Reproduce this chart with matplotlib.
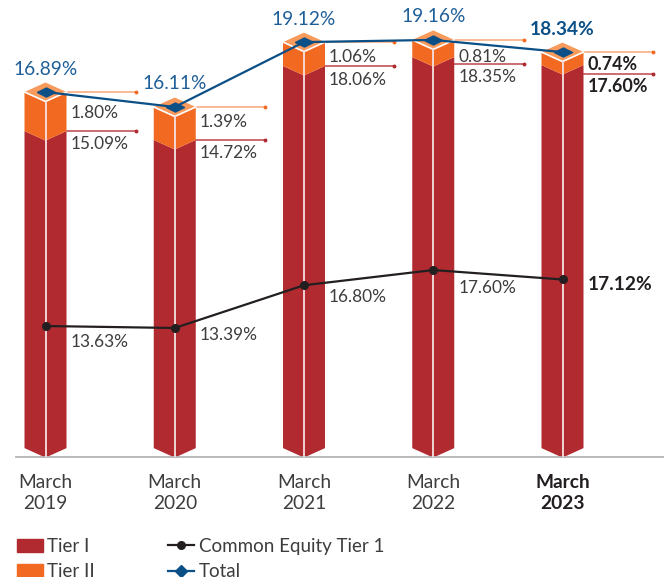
import matplotlib
matplotlib.use('Agg')
import matplotlib.pyplot as plt
from matplotlib.lines import Line2D
from matplotlib.patches import Patch

plt.rcParams['font.family'] = ['Lato', 'DejaVu Sans']

# Data: labels as printed, heights as drawn in the picture
years = ['March\n2019', 'March\n2020', 'March\n2021', 'March\n2022', 'March\n2023']
total_labels = ['16.89%', '16.11%', '19.12%', '19.16%', '18.34%']
tier2_labels = ['1.80%', '1.39%', '1.06%', '0.81%', '0.74%']
tier1_labels = ['15.09%', '14.72%', '18.06%', '18.35%', '17.60%']
cet_labels = ['13.63%', '13.39%', '16.80%', '17.60%', '17.12%']

total_height = [16.82, 16.13, 19.12, 19.22, 18.66]
tier1_height = [15.02, 14.61, 18.02, 18.43, 18.06]
tier1_leader = [15.02, 14.61, 18.02, 18.11, 17.65]
cet_height = [13.63, 13.49, 16.52, 17.60, 16.93]

# Label offsets in pixels below the leader lines
tier2_dy = [21, 15, 15, 17, 12]
tier1_dy = [13, 13, 14, 13, 13]
cet_dy = [16, 7, 12, 18, 5]

RED = '#b02a30'
ORANGE = '#f26a21'
TOP = '#f79a5b'
NAVY = '#0b4f87'
BLACK = '#231f20'
TEXT = '#3d3d3d'
FS = 13.8
FS_INNER = 12.4

W, H = 664, 577
fig = plt.figure(figsize=(W / 100, H / 100), dpi=100)
ax = fig.add_axes([16 / W, (H - 457) / H, (W - 16) / W, 457 / H])
ax.set_xlim(-(45.5 - 16) / 129.25, (W - 45.5) / 129.25)
ax.set_ylim(0, 457 / 21.7)

half = 21 / 129.25
depth = 9.5 / 21.7
base = 0.41

# Bars
for i in range(len(years)):
    t1 = tier1_height[i]
    top = total_height[i]
    for side in (-1, 1):
        ax.fill([i + side * half, i, i, i + side * half],
                [base, base - depth, t1 - depth, t1], color=RED, lw=0, zorder=2)
        ax.fill([i + side * half, i, i, i + side * half],
                [t1, t1 - depth, top - depth, top], color=ORANGE, lw=0, zorder=2)
    ax.fill([i - half, i, i + half, i], [top, top + depth, top, top - depth],
            color=TOP, lw=0, zorder=2)
    ax.plot([i - half, i, i + half], [top, top - depth, top], color='white', lw=1.2, zorder=3)
    ax.plot([i, i], [base - depth, top - depth], color='#f6dfe0', lw=1.3, zorder=3)

    # Leader lines
    ax.plot([i + half, i + 0.7], [top, top], color='#f9b48a', lw=1.3, zorder=1)
    ax.plot([i + 0.7], [top], 'o', color=ORANGE, ms=1.8, zorder=1)
    ax.plot([i + half, i + 0.7], [tier1_leader[i]] * 2, color='#c4545a', lw=1.2, zorder=1)
    ax.plot([i + 0.7], [tier1_leader[i]], 'o', color=RED, ms=1.8, zorder=1)

    weight = 'bold' if i == 4 else 'normal'
    color = BLACK if i == 4 else TEXT
    ax.annotate(total_labels[i], (i, top), xytext=(0, 23), textcoords='offset pixels',
                ha='center', va='center', fontsize=FS, color=NAVY if i == 4 else '#1f5f99',
                fontweight=weight)
    ax.annotate(tier2_labels[i], (i, top), xytext=(25, -tier2_dy[i]), textcoords='offset pixels',
                ha='left', va='center', fontsize=FS_INNER + (0.5 if i == 4 else 0), color=color,
                fontweight=weight)
    ax.annotate(tier1_labels[i], (i, tier1_leader[i]), xytext=(25, -tier1_dy[i]),
                textcoords='offset pixels', ha='left', va='center',
                fontsize=FS_INNER + (0.5 if i == 4 else 0), color=color, fontweight=weight)

# Total line
wide_diamond = [(-1, 0), (0, 0.5), (1, 0), (0, -0.5), (-1, 0)]
ax.plot(range(len(years)), total_height, color=NAVY, lw=1.6, marker=wide_diamond, ms=13, zorder=4)

# Axis
for name in ['top', 'left', 'right']:
    ax.spines[name].set_visible(False)
ax.spines['bottom'].set_color('#b3b3b3')
ax.spines['bottom'].set_linewidth(1.3)
ax.set_yticks([])
ax.set_xticks(range(len(years)))
ax.set_xticklabels(years, fontsize=FS, color=TEXT, linespacing=1.3)
ax.get_xticklabels()[4].set_fontweight('bold')
ax.get_xticklabels()[4].set_color(BLACK)
ax.tick_params(axis='x', length=0, pad=12)

# Common Equity Tier 1 sits on its own scale
ax2 = ax.twinx()
ax2.set_ylim((518.2 - 457) / 14.1, 518.2 / 14.1)
ax2.set_yticks([])
for name in ax2.spines:
    ax2.spines[name].set_visible(False)
ax2.plot(range(len(years)), cet_height, color=BLACK, lw=1.6, marker='o', ms=5.5, zorder=4)
for i in range(len(years)):
    ax2.annotate(cet_labels[i], (i, cet_height[i]), xytext=(25, -cet_dy[i]),
                 textcoords='offset pixels', ha='left', va='center',
                 fontsize=FS if i == 4 else FS_INNER,
                 color=BLACK if i == 4 else TEXT, fontweight='bold' if i == 4 else 'normal')

# Legend runs off the bottom edge as in the original
handles = [Patch(color=RED), Patch(color=ORANGE),
           Line2D([], [], color=BLACK, lw=1.6, marker='o', ms=5.5),
           Line2D([], [], color=NAVY, lw=1.6, marker='D', ms=6)]
labels = ['Tier I', 'Tier II', 'Common Equity Tier 1', 'Total']
fig.legend(handles, labels, ncol=2, loc='upper left', bbox_to_anchor=(11 / W, (H - 532) / H),
           frameon=False, fontsize=13.5, labelcolor=TEXT, handlelength=1.39, handletextpad=0.25,
           columnspacing=3.9, labelspacing=0.45, borderaxespad=0, borderpad=0.3)

fig.savefig('out.png', dpi=100)
